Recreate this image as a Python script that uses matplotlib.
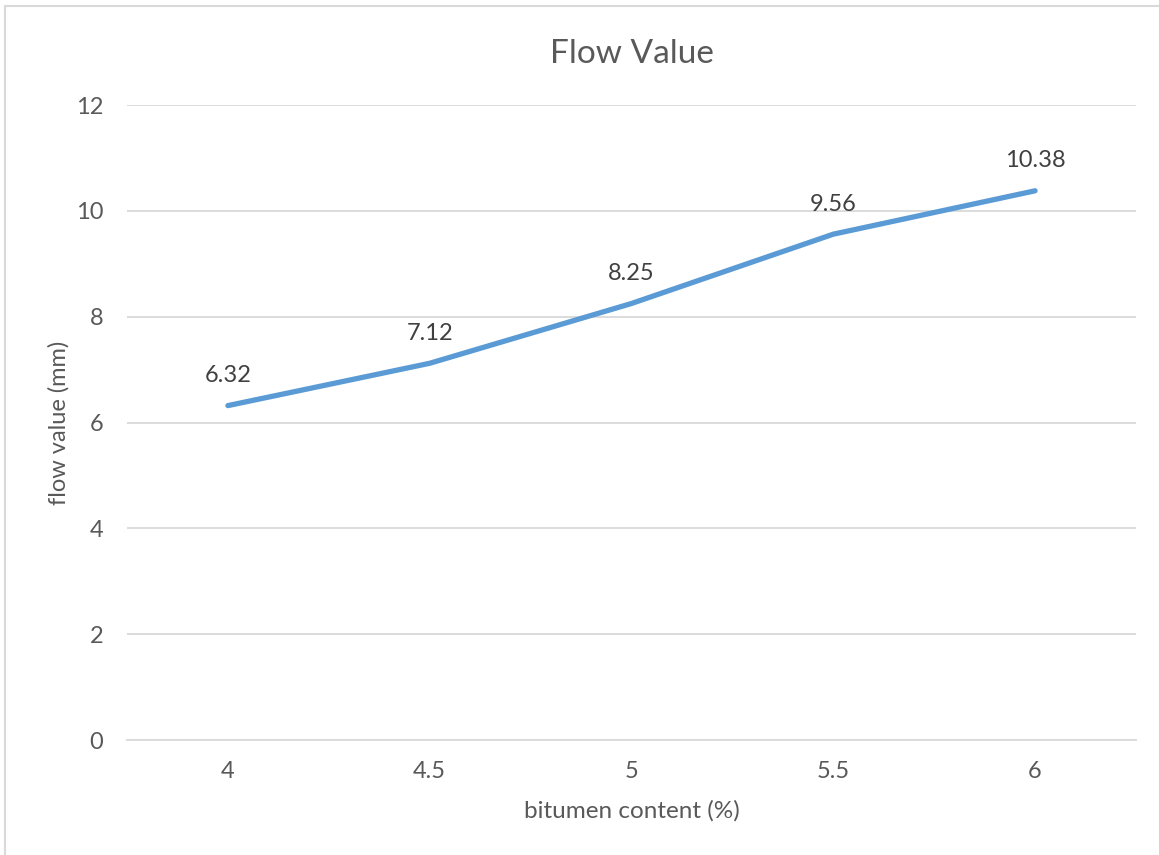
import matplotlib.pyplot as plt
from matplotlib.patches import Rectangle

# Flow value against bitumen content
bitumen = ['4', '4.5', '5', '5.5', '6']
flow = [6.32, 7.12, 8.25, 9.56, 10.38]
flow_labels = ['6.32', '7.12', '8.25', '9.56', '10.38']

plt.rcParams['font.family'] = ['Lato', 'DejaVu Sans']
grey = '#595959'

fig = plt.figure(figsize=(11.59, 8.55), dpi=100)
ax = fig.add_axes([0.1096, 0.1345, 0.8705, 0.7426])

x = list(range(len(bitumen)))
ax.plot(x, flow, color='#5B9BD5', linewidth=3.8, solid_capstyle='round', zorder=3)
for xi, yi, lab in zip(x, flow, flow_labels):
    ax.annotate(lab, (xi, yi), xytext=(0, 14), textcoords='offset points',
                ha='center', va='bottom', fontsize=17, color='#404040')

ax.set_xlim(-0.5, len(bitumen) - 0.5)
ax.set_ylim(0, 12)
ax.set_yticks(range(0, 13, 2))
ax.set_xticks(x)
ax.set_xticklabels(bitumen)
ax.grid(axis='y', color='#D9D9D9', linewidth=1.3)
ax.set_axisbelow(True)
for side in ['top', 'right', 'left']:
    ax.spines[side].set_visible(False)
ax.spines['bottom'].set_color('#D9D9D9')
ax.spines['bottom'].set_linewidth(1.3)
ax.tick_params(axis='both', length=0, labelsize=17, labelcolor=grey)
ax.tick_params(axis='y', pad=17)
ax.tick_params(axis='x', pad=15)

ax.set_title('Flow Value', fontsize=24, color=grey, pad=30)
ax.set_xlabel('bitumen content (%)', fontsize=17.5, color=grey, labelpad=13)
ax.set_ylabel('flow value (mm)', fontsize=17, color=grey, labelpad=4.5)

# chart frame
fig.patches.append(Rectangle((5 / 1159, -0.1), 1.2, 1 - 6 / 855 + 0.1,
                             transform=fig.transFigure, fill=False,
                             edgecolor='#D9D9D9', linewidth=1.5))

fig.savefig('out.png', dpi=100)
